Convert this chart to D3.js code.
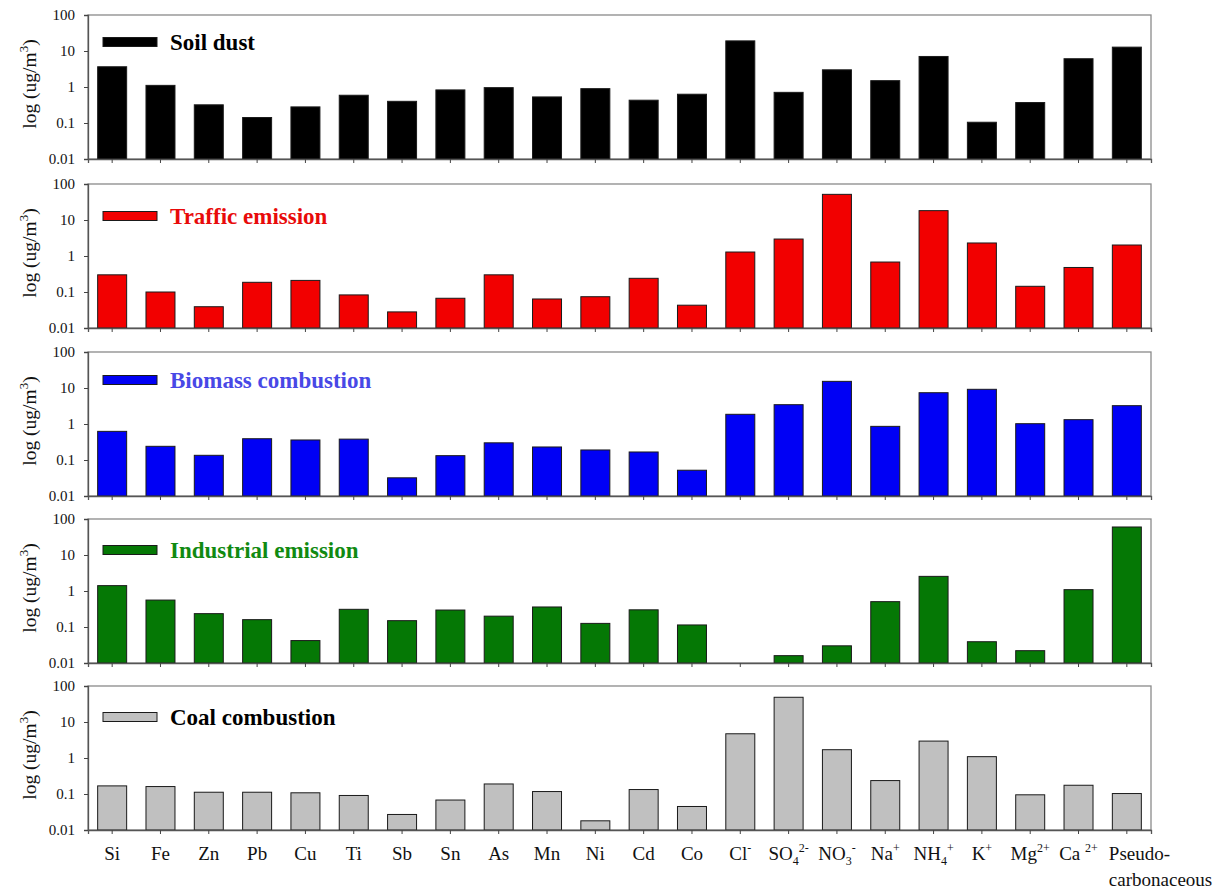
<!DOCTYPE html>
<html>
<head>
<meta charset="utf-8">
<script src="https://cdn.jsdelivr.net/npm/d3@7"></script>
<style>
  html, body { margin: 0; padding: 0; background: #fff; }
  svg { display: block; font-family: "Liberation Serif", "Times New Roman", serif; }
</style>
</head>
<body>
<svg id="chart" width="1217" height="892"></svg>
<script>
// Species measured in each source profile
const categories = ["Si","Fe","Zn","Pb","Cu","Ti","Sb","Sn","As","Mn","Ni","Cd","Co",
  "Cl","SO4","NO3","Na","NH4","K","Mg","Ca","Pseudo"];

// Axis labels for each species: [text, "" | "sub" | "sup"] parts
const tickLabels = [
  [["Si",""]],[["Fe",""]],[["Zn",""]],[["Pb",""]],[["Cu",""]],[["Ti",""]],
  [["Sb",""]],[["Sn",""]],[["As",""]],[["Mn",""]],[["Ni",""]],[["Cd",""]],[["Co",""]],
  [["Cl",""],["-","sup"]],
  [["SO",""],["4","sub"],["2-","sup"]],
  [["NO",""],["3","sub"],["-","sup"]],
  [["Na",""],["+","sup"]],
  [["NH",""],["4","sub"],["+","sup"]],
  [["K",""],["+","sup"]],
  [["Mg",""],["2+","sup"]],
  [["Ca ",""],["2+","sup"]],
  [["Pseudo-",""]]
];
const lastLabelLine2 = "carbonaceous";

const yTicks = [0.01, 0.1, 1, 10, 100];

// Source profiles (ug/m3), one value per species; null = not detected
const soilDust = [3.65,1.11,0.32,0.142,0.28,0.59,0.40,0.83,0.96,0.53,0.90,0.43,0.63,
  19.1,0.71,3.0,1.5,7.05,0.105,0.37,6.1,12.8];
const trafficEmission = [0.30,0.10,0.039,0.186,0.21,0.083,0.028,0.067,0.30,0.064,0.074,0.24,0.043,
  1.29,2.96,51.6,0.68,18.2,2.3,0.144,0.48,2.02];
const biomassCombustion = [0.625,0.24,0.135,0.39,0.36,0.38,0.032,0.132,0.30,0.23,0.19,0.167,0.052,
  1.86,3.44,15.3,0.86,7.4,9.2,1.02,1.32,3.23];
const industrialEmission = [1.41,0.56,0.235,0.16,0.042,0.31,0.15,0.296,0.20,0.36,0.126,0.30,0.114,
  null,0.016,0.030,0.506,2.55,0.039,0.022,1.09,60.0];
const coalCombustion = [0.168,0.161,0.112,0.112,0.108,0.091,0.027,0.068,0.19,0.117,0.018,0.133,0.045,
  4.71,48.6,1.70,0.236,2.95,1.09,0.095,0.175,0.103];

const sourceNames = ["Soil dust","Traffic emission","Biomass combustion","Industrial emission","Coal combustion"];
const sourceSeries = [soilDust, trafficEmission, biomassCombustion, industrialEmission, coalCombustion];

// Appearance of each panel
const barFills  = ["#000000","#f20000","#0000f5","#057805","#c0c0c0"];
const nameFills = ["#000000","#e80a0a","#4848e6","#118a11","#000000"];

// Panel layout
const left = 88, right = 1151;
const panelTops = [15, 184, 352, 519, 686];
const panelH = 144;
const legendDy = [27, 32, 28, 31, 31];

const svg = d3.select("#chart");

const x = d3.scaleBand()
  .domain(categories)
  .range([left, right])
  .paddingInner(0.4)
  .paddingOuter(0.2);

sourceSeries.forEach((series, p) => {
  const top = panelTops[p];
  const bottom = top + panelH;
  const y = d3.scaleLog().domain([0.01, 100]).range([bottom, top]);
  const g = svg.append("g");

  // frame
  g.append("rect")
    .attr("x", left).attr("y", top)
    .attr("width", right - left).attr("height", panelH)
    .attr("fill", "none").attr("stroke", "#8a8a8a").attr("stroke-width", 1.3);

  // bars
  const rows = categories.map((c, i) => ({ c, v: series[i] })).filter(d => d.v != null);
  g.selectAll("rect.bar").data(rows).enter().append("rect")
    .attr("class", "bar")
    .attr("x", d => x(d.c))
    .attr("width", x.bandwidth())
    .attr("y", d => y(d.v))
    .attr("height", d => y(0.01) - y(d.v))
    .attr("fill", barFills[p])
    .attr("stroke", "#1a1a1a")
    .attr("stroke-width", 1);

  // y axis
  const yAxis = d3.axisLeft(y)
    .tickValues(yTicks)
    .tickSize(4)
    .tickPadding(9)
    .tickFormat(d => d >= 1 ? d3.format("d")(d) : String(d));
  const ya = g.append("g").attr("transform", `translate(${left},0)`).call(yAxis);
  ya.select(".domain").attr("stroke", "#555").attr("stroke-width", 1.3);
  ya.selectAll(".tick line").attr("stroke", "#444");
  ya.selectAll(".tick text")
    .attr("font-family", "Liberation Serif, serif")
    .attr("font-size", 15).attr("fill", "#111");

  // x axis (tick marks only)
  const xAxis = d3.axisBottom(x).tickSize(4).tickFormat("");
  const xa = g.append("g").attr("transform", `translate(0,${bottom})`).call(xAxis);
  xa.select(".domain").attr("stroke", "#555").attr("stroke-width", 1.3);
  xa.selectAll(".tick line").attr("stroke", "#444");

  // y title
  const yt = g.append("text")
    .attr("transform", `translate(36,${top + panelH / 2 - 3}) rotate(-90)`)
    .attr("text-anchor", "middle")
    .attr("font-size", 19.5)
    .attr("fill", "#111");
  yt.append("tspan").text("log (ug/m");
  yt.append("tspan").attr("font-size", 13).attr("dy", -8).text("3");
  yt.append("tspan").attr("dy", 8).text(")");

  // legend
  const ly = top + legendDy[p];
  g.append("rect")
    .attr("x", 103).attr("y", ly - 4.5)
    .attr("width", 54).attr("height", 9)
    .attr("fill", barFills[p]).attr("stroke", "#1a1a1a").attr("stroke-width", 1);
  g.append("text")
    .attr("x", 170).attr("y", ly + 8)
    .attr("font-size", 23).attr("font-weight", "bold")
    .attr("fill", nameFills[p])
    .text(sourceNames[p]);
});

// category labels under the last panel
const labelY = panelTops[4] + panelH + 30;
const labels = svg.append("g").attr("font-size", 19).attr("fill", "#111");
categories.forEach((c, i) => {
  const cx = x(c) + x.bandwidth() / 2;
  const isLast = i === categories.length - 1;
  const t = labels.append("text")
    .attr("x", isLast ? cx - 18 : cx)
    .attr("y", labelY)
    .attr("text-anchor", isLast ? "start" : "middle");
  let shift = 0;
  tickLabels[i].forEach(([txt, kind]) => {
    const ts = t.append("tspan").text(txt);
    let target = kind === "sup" ? -8 : kind === "sub" ? 5 : 0;
    if (kind) ts.attr("font-size", 12);
    ts.attr("dy", target - shift);
    shift = target;
  });
  if (isLast) {
    labels.append("text")
      .attr("x", cx - 18).attr("y", labelY + 26)
      .attr("text-anchor", "start")
      .text(lastLabelLine2);
  }
});
</script>
</body>
</html>
